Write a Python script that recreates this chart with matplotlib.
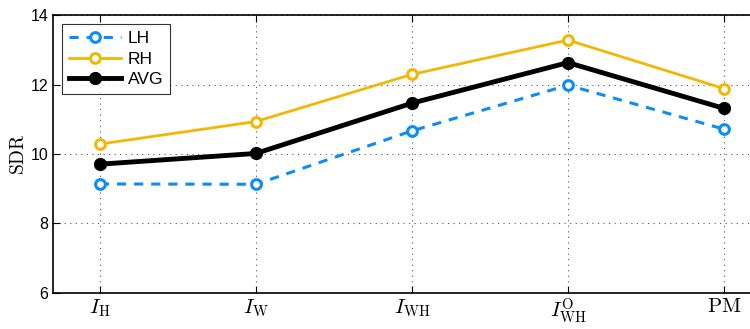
import matplotlib
matplotlib.use("Agg")
import matplotlib.pyplot as plt

#--------------------------------------#
#data#

methods = [r"$I_{\mathrm{H}}$", r"$I_{\mathrm{W}}$", r"$I_{\mathrm{WH}}$",
           r"$I_{\mathrm{WH}}^{\mathrm{O}}$", r"$\mathrm{PM}$"]
lh = [9.14, 9.13, 10.67, 11.99, 10.72]
rh = [10.29, 10.94, 12.30, 13.29, 11.89]
avg = [9.71, 10.02, 11.47, 12.64, 11.32]
y_ticks = [6, 8, 10, 12, 14]

#--------------------------------------#
#plot#

plt.rcParams["mathtext.fontset"] = "cm"
plt.rcParams["font.family"] = ["Liberation Sans", "DejaVu Sans"]

fig = plt.figure(figsize=(7.5, 3.29), dpi=100)
ax = fig.add_axes([0.0707, 0.110, 0.957, 0.843])

x = list(range(1, len(methods) + 1))
blue = "#0a8df5"
gold = "#f2b705"

ax.plot(x, lh, color=blue, linestyle=(0, (3.0, 2.6)), linewidth=2.2,
        marker="o", markersize=7, markerfacecolor="white",
        markeredgewidth=2.2, label="LH", zorder=3)
ax.plot(x, rh, color=gold, linewidth=2.0, marker="o", markersize=7,
        markerfacecolor="white", markeredgewidth=2.2, label="RH", zorder=3)
ax.plot(x, avg, color="black", linewidth=3.5, marker="o", markersize=8.5,
        markerfacecolor="black", label="AVG", zorder=4)

ax.set_xlim(0.7, 5.3)
ax.set_ylim(6, 14)
ax.set_xticks(x)
ax.set_xticklabels(methods, fontsize=15)
ax.set_yticks(y_ticks)
ax.set_yticklabels([str(t) for t in y_ticks], fontsize=11.5)
ax.set_ylabel(r"$\mathrm{SDR}$", fontsize=14, labelpad=2)

ax.grid(True, linestyle=(0, (1, 4)), color="#555555", linewidth=0.8)
ax.tick_params(direction="in", length=5, top=True, right=True, width=0.8)
ax.tick_params(axis="x", pad=3)
for s in ax.spines.values():
    s.set_linewidth(1.2)

leg = ax.legend(loc="upper left", bbox_to_anchor=(0.0125, 0.97), fontsize=12.5,
                frameon=True, fancybox=False, edgecolor="black",
                handlelength=3.0, borderpad=0.4, labelspacing=0.32,
                handletextpad=0.4, borderaxespad=0.0)
leg.get_frame().set_linewidth(0.8)

fig.savefig("out.png", dpi=100)
